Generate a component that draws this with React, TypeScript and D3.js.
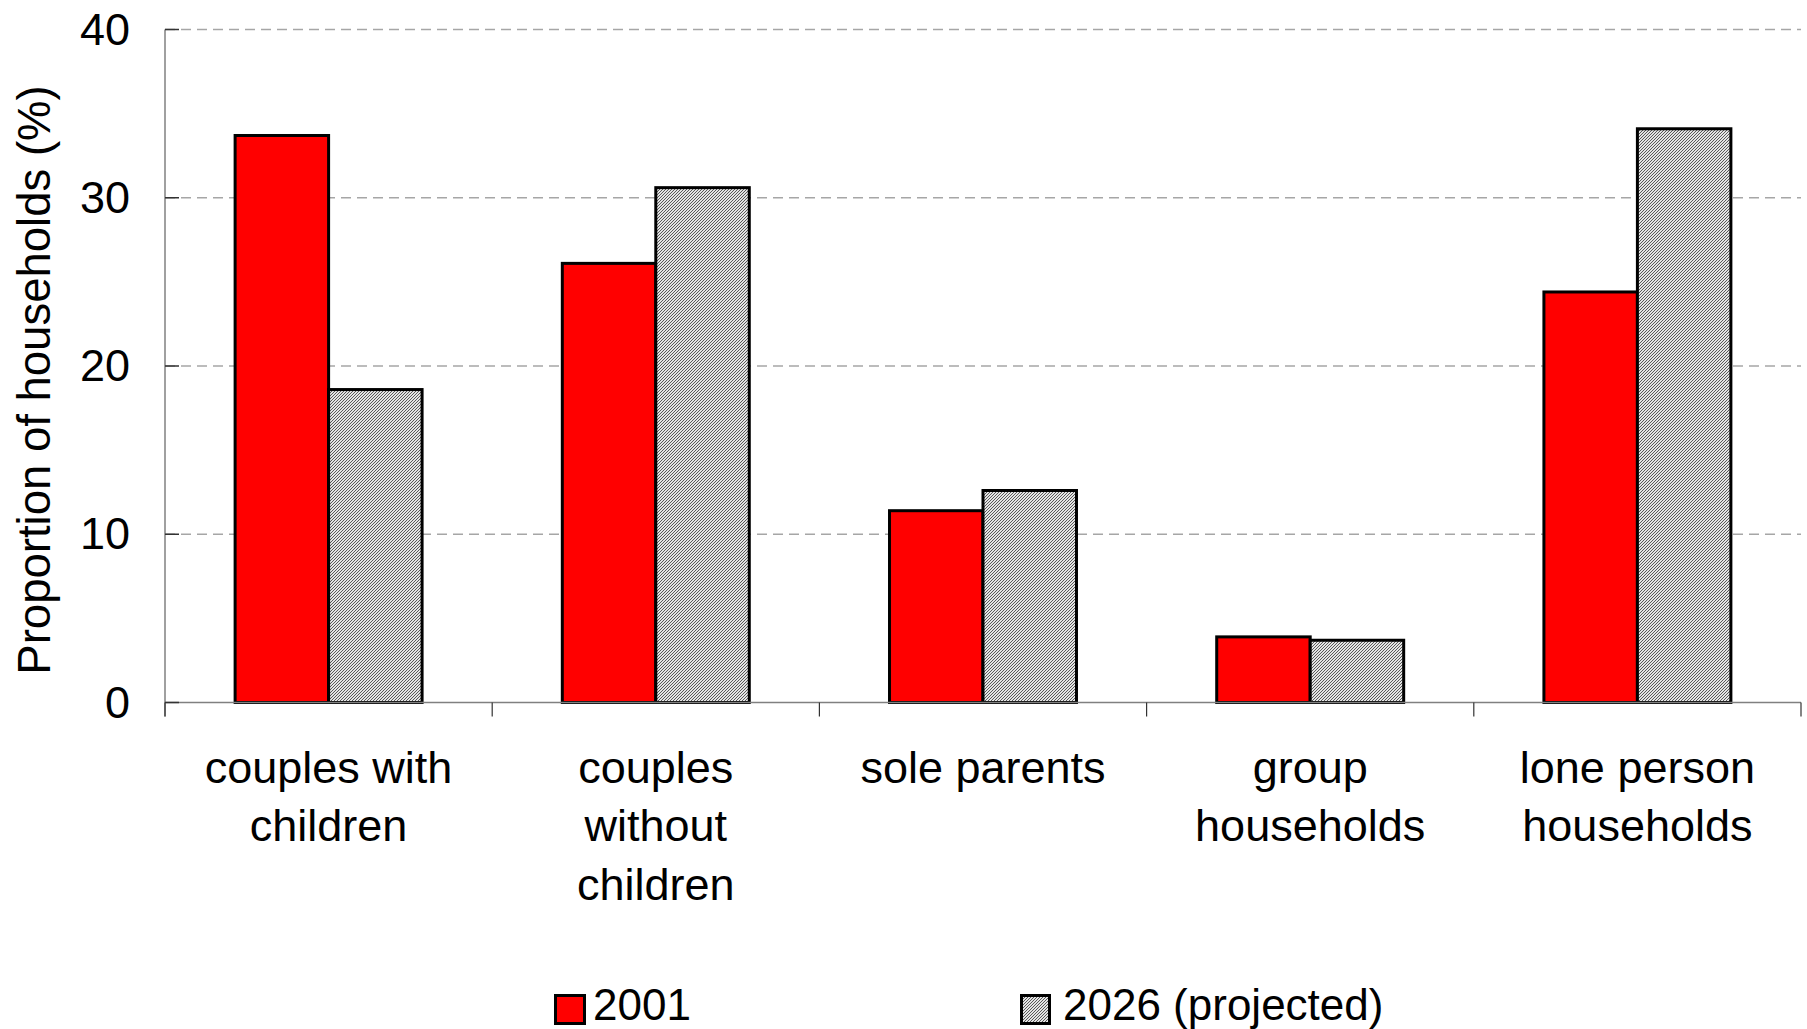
import React, { useEffect } from "react";
import * as d3 from "d3";

// Household composition: share of households by type
const categories: string[][] = [
  ["couples with", "children"],
  ["couples", "without", "children"],
  ["sole parents"],
  ["group", "households"],
  ["lone person", "households"],
];
const seriesNames = ["2001", "2026 (projected)"];
const values2001 = [33.7, 26.1, 11.4, 3.9, 24.4];
const values2026 = [18.6, 30.6, 12.6, 3.7, 34.1];
const yTicks = [0, 10, 20, 30, 40];

const W = 1807;
const H = 1029;
const FONT = "'Liberation Sans', Arial, Helvetica, sans-serif";

const plot = { left: 165, right: 1801, top: 29.5, bottom: 702.5 };

export default function App() {
  useEffect(() => {
    document.body.style.margin = "0";
    document.body.style.overflow = "hidden";
  }, []);

  const catIdx = categories.map((_, i) => String(i));
  const x0 = d3.scaleBand<string>().domain(catIdx).range([plot.left, plot.right]).padding(0);
  const x1 = d3
    .scaleBand<string>()
    .domain(seriesNames)
    .range([0, x0.bandwidth()])
    .paddingInner(0)
    .paddingOuter(0.75);
  const y = d3.scaleLinear().domain([0, 40]).range([plot.bottom, plot.top]);

  const series = [
    { name: seriesNames[0], values: values2001, fill: "#ff0000" },
    { name: seriesNames[1], values: values2026, fill: "url(#hatch)" },
  ];

  const boundaries = d3.range(categories.length + 1).map((i) => plot.left + i * x0.step());

  return (
    <svg
      width={W}
      height={H}
      viewBox={`0 0 ${W} ${H}`}
      style={{ position: "absolute", left: 0, top: 0, background: "#fff" }}
      fontFamily={FONT}
    >
      <defs>
        <pattern id="hatch" patternUnits="userSpaceOnUse" width={3} height={3}>
          <rect width={3} height={3} fill="#e4e4e4" />
          <path d="M-1,1 l2,-2 M0,3 l3,-3 M2,4 l2,-2" stroke="#4a4a4a" strokeWidth={0.9} />
        </pattern>
      </defs>
      <rect x={0} y={0} width={W} height={H} fill="#fff" />

      {/* horizontal gridlines */}
      {yTicks
        .filter((t) => t > 0)
        .map((t) => (
          <line
            key={`g${t}`}
            x1={plot.left}
            x2={plot.right}
            y1={y(t)}
            y2={y(t)}
            stroke="#a6a6a6"
            strokeWidth={1.5}
            strokeDasharray="10,6"
          />
        ))}

      {/* bars */}
      {series.map((s) =>
        s.values.map((v, i) => (
          <rect
            key={`${s.name}-${i}`}
            x={(x0(String(i)) ?? 0) + (x1(s.name) ?? 0)}
            y={y(v)}
            width={x1.bandwidth()}
            height={y(0) - y(v)}
            fill={s.fill}
            stroke="#000"
            strokeWidth={3}
          />
        ))
      )}

      {/* axes */}
      <line x1={plot.left} x2={plot.left} y1={plot.top} y2={plot.bottom + 14} stroke="#808080" strokeWidth={1.5} />
      <line x1={plot.left} x2={plot.right} y1={plot.bottom} y2={plot.bottom} stroke="#808080" strokeWidth={1.5} />
      {yTicks.map((t) => (
        <line key={`yt${t}`} x1={plot.left} x2={plot.left + 14} y1={y(t)} y2={y(t)} stroke="#333" strokeWidth={1.5} />
      ))}
      {boundaries.map((bx, i) => (
        <line key={`xt${i}`} x1={bx} x2={bx} y1={plot.bottom} y2={plot.bottom + 14} stroke="#333" strokeWidth={1.2} />
      ))}

      {/* y tick labels */}
      {yTicks.map((t) => (
        <text key={`yl${t}`} x={130} y={y(t) + 15} textAnchor="end" fontSize={45} fill="#000">
          {t}
        </text>
      ))}

      {/* y axis title */}
      <text
        transform={`translate(50, 380) rotate(-90)`}
        textAnchor="middle"
        fontSize={45.5}
        fill="#000"
      >
        Proportion of households (%)
      </text>

      {/* category labels */}
      {categories.map((lines, i) => (
        <text
          key={`c${i}`}
          x={(x0(String(i)) ?? 0) + x0.bandwidth() / 2}
          y={782.5}
          textAnchor="middle"
          fontSize={45}
          fill="#000"
        >
          {lines.map((ln, j) => (
            <tspan key={j} x={(x0(String(i)) ?? 0) + x0.bandwidth() / 2} dy={j === 0 ? 0 : 58.5}>
              {ln}
            </tspan>
          ))}
        </text>
      ))}

      {/* legend */}
      <rect x={555.5} y={995.5} width={29} height={28} fill="#ff0000" stroke="#000" strokeWidth={3} />
      <text x={593} y={1019.5} fontSize={44} fill="#000">
        {seriesNames[0]}
      </text>
      <rect x={1021.5} y={995.5} width={28} height={28} fill="url(#hatch)" stroke="#000" strokeWidth={3} />
      <text x={1063} y={1019.5} fontSize={44} fill="#000">
        {seriesNames[1]}
      </text>
    </svg>
  );
}
